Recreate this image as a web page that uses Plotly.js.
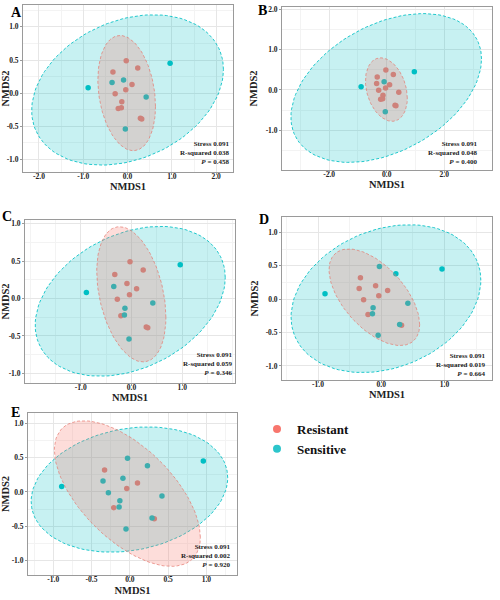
<!DOCTYPE html>
<html><head><meta charset="utf-8">
<script src="https://cdn.plot.ly/plotly-3.0.1.min.js"></script>
<style>html,body{margin:0;padding:0;background:#fff}</style>
</head><body><div id="chart" style="width:500px;height:600px"></div>
<script>
// ---- data ----
const sampleNMDS1 = [-0.03, 0.23, -0.33, 0.10, -0.04, -0.28, -0.13, -0.14, -0.21, 0.29, 0.32, 0.96, -0.89, -0.35, -0.09, 0.42, -0.05];
const sampleNMDS2 = [0.49, 0.38, 0.32, 0.13, 0.05, -0.01, -0.13, -0.22, -0.23, -0.38, -0.39, 0.45, 0.08, 0.16, 0.20, -0.06, -0.54];
// R = Resistant, S = Sensitive, one letter per sample
const groupsA = "RRRRRRRRRRRSSSSSS".split('');
const groupsB = "RRRRRRRRRRRSSRSRS".split('');
const groupsC = "RRRRRRSSRRRSSSRSS".split('');
const groupsD = "SSRRRRSSRSRSSRRSS".split('');
const groupsE = "SSRRRSSSRSRSSSSSS".split('');
const panelLetters = ['A', 'B', 'C', 'D', 'E'];
const stressValues = ['0.091', '0.091', '0.091', '0.091', '0.091'];
const rSquaredValues = ['0.038', '0.048', '0.059', '0.019', '0.002'];
const pValues = ['0.458', '0.400', '0.346', '0.664', '0.920'];
const groupNames = ['Resistant', 'Sensitive'];
const xTicksA = [-2, -1, 0, 1, 2], xTickTextA = ['-2.0', '-1.0', '0.0', '1.0', '2.0'];
const yTicksA = [-1, -0.5, 0, 0.5, 1], yTickTextA = ['-1.0', '-0.5', '0.0', '0.5', '1.0'];
const xTicksB = [-2, 0, 2], xTickTextB = ['-2.0', '0.0', '2.0'];
const yTicksB = [-1, 0, 1, 2], yTickTextB = ['-1.0', '0.0', '1.0', '2.0'];
const xTicksC = [-1, 0, 1], xTickTextC = ['-1.0', '0.0', '1.0'];
const yTicksC = [-1, -0.5, 0, 0.5, 1], yTickTextC = ['-1.0', '-0.5', '0.0', '0.5', '1.0'];
const xTicksD = [-1, 0, 1], xTickTextD = ['-1.0', '0.0', '1.0'];
const yTicksD = [-1, -0.5, 0, 0.5, 1], yTickTextD = ['-1.0', '-0.5', '0.0', '0.5', '1.0'];
const xTicksE = [-1, -0.5, 0, 0.5, 1], xTickTextE = ['-1.0', '-0.5', '0.0', '0.5', '1.0'];
const yTicksE = [-1, -0.5, 0, 0.5, 1], yTickTextE = ['-1.0', '-0.5', '0.0', '0.5', '1.0'];

// ---- styling / layout ----
const W = 500, H = 600;
const FONT = 'Liberation Serif, Times New Roman, serif';
const colR = '#F8766D', colS = '#00BFC4';
const panels = [
  {groups: groupsA, px: [23, 233], py: [5, 172], xr: [-2.36, 2.38], yr: [-1.19, 1.33], xt: [xTicksA, xTickTextA], yt: [yTicksA, yTickTextA], xm: 0.5, ym: 0.25, letter: [16, 12], inset: 3, sy: 5, xso: 0, yso: 2},
  {groups: groupsB, px: [282, 492], py: [7, 170], xr: [-3.64, 3.66], yr: [-1.98, 2.05], xt: [xTicksB, xTickTextB], yt: [yTicksB, yTickTextB], xm: 1, ym: 0.5, letter: [262, 10], inset: 14, sy: 3, xso: 1, yso: 5},
  {groups: groupsC, px: [25, 235], py: [220, 383], xr: [-2.10, 2.04], yr: [-1.13, 1.05], xt: [xTicksC, xTickTextC], yt: [yTicksC, yTickTextC], xm: 0.5, ym: 0.25, letter: [7, 216], inset: 2, sy: 5, xso: 0, yso: 5},
  {groups: groupsD, px: [282, 492], py: [217, 380], xr: [-1.57, 1.75], yr: [-1.21, 1.23], xt: [xTicksD, xTickTextD], yt: [yTicksD, yTickTextD], xm: 0.5, ym: 0.25, letter: [264, 219], inset: 6, sy: 1.5, xso: 1, yso: 4},
  {groups: groupsE, px: [28, 237], py: [413, 575], xr: [-1.33, 1.40], yr: [-1.21, 1.15], xt: [xTicksE, xTickTextE], yt: [yTicksE, yTickTextE], xm: 0.25, ym: 0.25, letter: [15, 412], inset: 6, sy: 5.5, xso: 3, yso: 7}
];

// 95% normal data ellipse (as ggplot2 stat_ellipse(type = "norm"))
function dataEllipse(xs, ys, level) {
  const n = xs.length;
  const mx = xs.reduce((a, b) => a + b, 0) / n;
  const my = ys.reduce((a, b) => a + b, 0) / n;
  let sxx = 0, syy = 0, sxy = 0;
  for (let i = 0; i < n; i++) {
    sxx += (xs[i] - mx) ** 2; syy += (ys[i] - my) ** 2; sxy += (xs[i] - mx) * (ys[i] - my);
  }
  sxx /= (n - 1); syy /= (n - 1); sxy /= (n - 1);
  const a = Math.sqrt(sxx), b = sxy / a, c = Math.sqrt(Math.max(syy - b * b, 0));
  const dfd = n - 1;
  const qf = (dfd / 2) * (Math.pow(1 - level, -2 / dfd) - 1); // F(2, dfd) quantile
  const r = Math.sqrt(2 * qf);
  const ex = [], ey = [];
  const seg = 120;
  for (let k = 0; k <= seg; k++) {
    const t = 2 * Math.PI * k / seg;
    const ct = Math.cos(t), st = Math.sin(t);
    ex.push(mx + r * ct * a);
    ey.push(my + r * (ct * b + st * c));
  }
  return {x: ex, y: ey};
}

const traces = [];
const layout = {
  width: W, height: H, margin: {l: 0, r: 0, t: 0, b: 0},
  paper_bgcolor: '#fff', plot_bgcolor: '#fff',
  font: {family: FONT, color: '#1a1a1a'},
  showlegend: true,
  legend: {x: 0.514, y: 1 - 414 / H, xanchor: 'left', yanchor: 'top', bgcolor: 'rgba(0,0,0,0)',
           font: {family: FONT, size: 13, weight: 'bold', color: '#111'}, itemsizing: 'trace', tracegroupgap: 0},
  annotations: []
};

panels.forEach((p, i) => {
  const xa = i === 0 ? 'x' : 'x' + (i + 1);
  const ya = i === 0 ? 'y' : 'y' + (i + 1);
  const xk = i === 0 ? 'xaxis' : 'xaxis' + (i + 1);
  const yk = i === 0 ? 'yaxis' : 'yaxis' + (i + 1);
  const sets = {R: {x: [], y: []}, S: {x: [], y: []}};
  p.groups.forEach((g, j) => { sets[g].x.push(sampleNMDS1[j]); sets[g].y.push(sampleNMDS2[j]); });
  // points (drawn first, ellipses are laid over them)
  traces.push({type: 'scatter', mode: 'markers', x: sets.R.x, y: sets.R.y, xaxis: xa, yaxis: ya,
               marker: {color: colR, size: 5.5}, showlegend: false, hoverinfo: 'skip'});
  traces.push({type: 'scatter', mode: 'markers', x: sets.S.x, y: sets.S.y, xaxis: xa, yaxis: ya,
               marker: {color: colS, size: 5.5}, showlegend: false, hoverinfo: 'skip'});
  const eS = dataEllipse(sets.S.x, sets.S.y, 0.95);
  const eR = dataEllipse(sets.R.x, sets.R.y, 0.95);
  traces.push({type: 'scatter', mode: 'lines', x: eS.x, y: eS.y, xaxis: xa, yaxis: ya, fill: 'toself',
               fillcolor: 'rgba(0,191,196,0.22)', line: {color: 'rgba(0,191,196,0.85)', width: 1, dash: '3px,2px'},
               showlegend: false, hoverinfo: 'skip'});
  traces.push({type: 'scatter', mode: 'lines', x: eR.x, y: eR.y, xaxis: xa, yaxis: ya, fill: 'toself',
               fillcolor: 'rgba(248,118,109,0.25)', line: {color: 'rgba(230,120,110,0.7)', width: 1, dash: '3px,2px'},
               showlegend: false, hoverinfo: 'skip'});

  const common = {
    showline: true, mirror: true, linecolor: '#9a9a9a', linewidth: 1,
    ticks: 'outside', ticklen: 2, tickcolor: '#9a9a9a', zeroline: false,
    showgrid: true, gridcolor: '#e6e6e6', gridwidth: 1,
    tickfont: {family: FONT, size: 7.5, weight: 'bold', color: '#222'},
    tickmode: 'array', automargin: false, fixedrange: true
  };
  layout[xk] = Object.assign({}, common, {
    domain: [p.px[0] / W, p.px[1] / W], range: p.xr, anchor: ya,
    tickvals: p.xt[0], ticktext: p.xt[1], ticklabelstandoff: -5,
    minor: {dtick: p.xm, tick0: 0, showgrid: true, gridcolor: '#f3f3f3', ticklen: 0},
    title: {text: 'NMDS1', font: {family: FONT, size: 10.5, weight: 'bold', color: '#222'}, standoff: p.xso}
  });
  layout[yk] = Object.assign({}, common, {
    domain: [1 - p.py[1] / H, 1 - p.py[0] / H], range: p.yr, anchor: xa,
    tickvals: p.yt[0], ticktext: p.yt[1],
    minor: {dtick: p.ym, tick0: 0, showgrid: true, gridcolor: '#f3f3f3', ticklen: 0},
    title: {text: 'NMDS2', font: {family: FONT, size: 10.5, weight: 'bold', color: '#222'}, standoff: p.yso}
  });
  // panel letter
  layout.annotations.push({xref: 'paper', yref: 'paper', x: p.letter[0] / W, y: 1 - p.letter[1] / H,
    xanchor: 'center', yanchor: 'middle', showarrow: false, text: panelLetters[i], borderpad: 0,
    font: {family: FONT, size: 14, weight: 'bold', color: '#000'}});
  // statistics
  const txt = 'Stress ' + stressValues[i] + '<br>R-squared ' + rSquaredValues[i] + '<br><i>P</i> = ' + pValues[i];
  layout.annotations.push({xref: xa + ' domain', yref: ya + ' domain', x: 1, y: 0, xanchor: 'right', yanchor: 'bottom',
    xshift: -p.inset, yshift: p.sy, showarrow: false, text: txt, align: 'right', borderpad: 0,
    font: {family: FONT, size: 7, weight: 'bold', color: '#222'}});
});

// legend entries
traces.push({type: 'scatter', mode: 'markers', x: [null], y: [null], name: groupNames[0], marker: {color: colR, size: 8}, showlegend: true, hoverinfo: 'skip'});
traces.push({type: 'scatter', mode: 'markers', x: [null], y: [null], name: groupNames[1], marker: {color: '#2CC5CB', size: 8}, showlegend: true, hoverinfo: 'skip'});

Plotly.newPlot('chart', traces, layout, {displayModeBar: false, staticPlot: true});
</script>
</body></html>
